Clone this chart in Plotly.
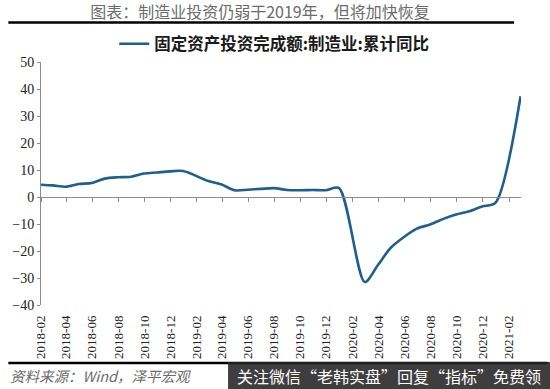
import plotly.graph_objects as go
import pandas as pd

# ---- data ----
months = ["2017-12",
          "2018-02", "2018-03", "2018-04", "2018-05", "2018-06", "2018-07",
          "2018-08", "2018-09", "2018-10", "2018-11", "2018-12",
          "2019-02", "2019-03", "2019-04", "2019-05", "2019-06", "2019-07",
          "2019-08", "2019-09", "2019-10", "2019-11", "2019-12",
          "2020-02", "2020-03", "2020-04", "2020-05", "2020-06", "2020-07",
          "2020-08", "2020-09", "2020-10", "2020-11", "2020-12",
          "2021-02"]
values = [4.8,
          4.3, 3.8, 4.8, 5.2, 6.8, 7.3, 7.5, 8.7, 9.1, 9.5, 9.6,
          5.9, 4.6, 2.5, 2.7, 3.0, 3.3, 2.6, 2.5, 2.6, 2.5, 3.3,
          -31.5, -25.2, -18.8, -14.8, -11.7, -10.2, -8.1, -6.5, -5.3, -3.5, -2.2,
          37.3]
series_name = "固定资产投资完成额:制造业:累计同比"
title_text = "图表：制造业投资仍弱于2019年，但将加快恢复"
source_text = "资料来源：Wind，泽平宏观"
watermark_text = "关注微信“老韩实盘”回复“指标”免费领"

x_start, x_end = "2018-02-01", "2021-03-01"
y_min, y_max = -40, 50

# month-end dates
dates = [(pd.Period(m, freq="M").end_time.normalize()).strftime("%Y-%m-%d") for m in months]

# ---- layout geometry (pixels) ----
W, H = 550, 389
L, R, T, B = 36, 29, 62, 84
PW, PH = W - L - R, H - T - B


def px(x):
    return (x - L) / PW


def py(y):
    return (H - B - y) / PH


LINE_COLOR = "#1F5F8F"
AXIS_COLOR = "#8C8C8C"
SERIF = "Liberation Serif, Times New Roman, serif"
CJK = "Noto Sans CJK SC, sans-serif"

fig = go.Figure()
fig.add_trace(go.Scatter(
    x=dates, y=values, name=series_name, mode="lines",
    line=dict(color=LINE_COLOR, width=2.6, shape="spline", smoothing=0.8),
    hoverinfo="x+y",
))
# helper trace so that the zero-crossing axis (xaxis2) is drawn
fig.add_trace(go.Scatter(
    x=dates, y=values, xaxis="x2", mode="lines", showlegend=False,
    line=dict(color="rgba(0,0,0,0)", width=0), hoverinfo="skip",
))

zero_pos = (0 - y_min) / (y_max - y_min)

fig.update_layout(
    width=W, height=H,
    margin=dict(l=L, r=R, t=T, b=B, pad=0),
    paper_bgcolor="white", plot_bgcolor="white",
    title=dict(text=title_text, x=260 / W, xanchor="center", xref="container",
               y=1 - 12 / H, yanchor="middle", yref="container",
               font=dict(family=CJK, size=16, color="#6b6b6b")),
    showlegend=True,
    legend=dict(orientation="h", x=px(110), xanchor="left", y=py(44), yanchor="middle",
                font=dict(family=CJK, size=16.5, color="#1a1a1a", weight="bold"),
                bgcolor="rgba(0,0,0,0)", itemwidth=30),
    xaxis=dict(type="date", range=[x_start, x_end], tick0="2018-02-01", dtick="M2",
               tickformat="%Y-%m", tickangle=-90, showline=False, showgrid=False,
               zeroline=False, ticks="", ticklabelstandoff=7,
               tickfont=dict(family=SERIF, size=13, color="#222222")),
    xaxis2=dict(type="date", range=[x_start, x_end], tick0="2018-02-01", dtick="M2",
                overlaying="x", anchor="free", position=zero_pos, side="bottom",
                showline=True, linecolor=AXIS_COLOR, linewidth=1,
                ticks="outside", ticklen=4, tickcolor=AXIS_COLOR, tickwidth=1,
                showticklabels=False, showgrid=False, zeroline=False),
    yaxis=dict(range=[y_min, y_max], dtick=10, tick0=0, showline=True,
               linecolor=AXIS_COLOR, linewidth=1, ticks="outside", ticklen=3,
               tickcolor=AXIS_COLOR, showgrid=False, zeroline=False,
               tickfont=dict(family=SERIF, size=14, color="#222222")),
    shapes=[
        dict(type="line", xref="paper", yref="paper", x0=px(3), x1=px(514),
             y0=py(22.5), y1=py(22.5), line=dict(color="black", width=2.5)),
        dict(type="line", xref="paper", yref="paper", x0=px(3), x1=px(548),
             y0=py(363), y1=py(363), line=dict(color="black", width=2.5)),
        dict(type="rect", xref="paper", yref="paper", x0=px(225), x1=px(551),
             y0=py(389.5), y1=py(362), line=dict(width=0),
             fillcolor="rgba(35,35,35,0.88)"),
    ],
    annotations=[
        dict(text=source_text, xref="paper", yref="paper", x=px(3), y=py(375),
             xanchor="left", yanchor="middle", showarrow=False,
             font=dict(family=CJK, size=14.5, color="#6b6b6b", style="italic")),
        dict(text=watermark_text, xref="paper", yref="paper", x=px(232), y=py(376),
             xanchor="left", yanchor="middle", showarrow=False,
             font=dict(family=CJK, size=16, color="white")),
    ],
)

fig.write_html("out.html")
